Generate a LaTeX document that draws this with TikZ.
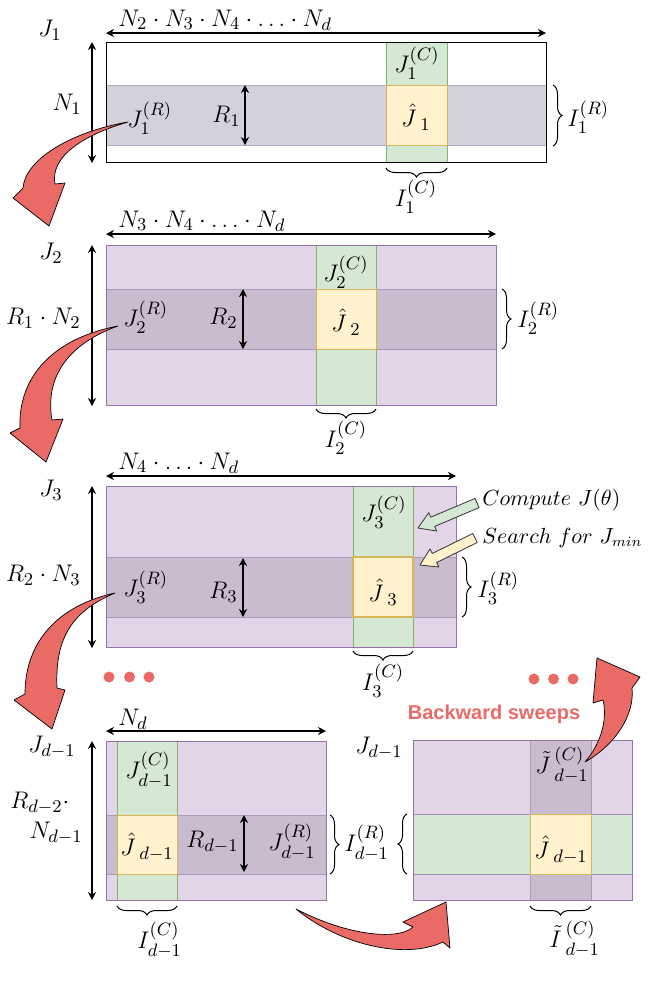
\documentclass[tikz,border=0pt]{standalone}
\usepackage{fontspec}
\newfontfamily\helv{Liberation Sans}
\usetikzlibrary{arrows.meta,decorations.pathreplacing}
\definecolor{grn}{HTML}{D5E8D4}\definecolor{grnD}{HTML}{82B366}
\definecolor{yel}{HTML}{FFF2CC}\definecolor{yelD}{HTML}{D6B656}
\definecolor{pur}{HTML}{E1D5E7}\definecolor{purD}{HTML}{9673A6}
\definecolor{rowA}{HTML}{D5D1DC}\definecolor{rowAD}{HTML}{B4A7C4}
\definecolor{rowB}{HTML}{C8BCCE}\definecolor{rowBD}{HTML}{AB9BBB}
\definecolor{redA}{HTML}{EA6B66}
\begin{document}
\begin{tikzpicture}[x=0.5pt,y=-0.5pt,
  lab/.style={font=\fontsize{12.6}{14}\selectfont, inner sep=0pt},
  note/.style={font=\fontsize{10.5}{13}\selectfont, inner sep=0pt},
  dimarrow/.style={{Stealth[length=4pt,width=4pt]}-{Stealth[length=4pt,width=4pt]}, line width=0.55pt},
  brc/.style={decorate, decoration={brace, amplitude=4.5pt}, line width=0.5pt},
  redarrow/.style={fill=redA, draw=black, line width=0.35pt, line join=round},
  cell/.style={line width=0.5pt},
  blockarrow/.style={draw=black!80, line width=0.4pt, line join=round}]
\useasboundingbox (0,0) rectangle (648,987);

% ---------------- Panel 1 ----------------
\fill[white] (106,42) rectangle (546,162);
\filldraw[cell, fill=rowA, draw=rowAD] (106,85) rectangle (546,145);
\filldraw[cell, fill=grn, draw=grnD] (386,42) rectangle (447,162);
\filldraw[cell, fill=yel, draw=yelD] (386,85) rectangle (447,145);
\draw[line width=0.5pt] (106,42) rectangle (546,162);
\coordinate (h1a) at (106,33); \coordinate (h1b) at (546,33);
\coordinate (v1a) at (92,42); \coordinate (v1b) at (92,163);
\coordinate (r1a) at (245,85); \coordinate (r1b) at (245,145);
\draw[dimarrow] (h1a) -- (h1b);
\draw[dimarrow] (v1a) -- (v1b);
\draw[dimarrow] (r1a) -- (r1b);
\node[lab, anchor=south west] (n1chain) at (118,31) {$N_2\cdot N_3\cdot N_4\cdot\ldots\cdot N_d$};
\node[lab] (J1) at (50,30) {$J_1$};
\node[lab, anchor=east] (N1) at (82,104) {$N_1$};
\node[lab, anchor=west] (J1R) at (127,118) {$J_1^{(R)}$};
\node[lab, anchor=east] (R1) at (241,116) {$R_1$};
\node[lab] (J1C) at (417,63) {$J_1^{(C)}$};
\node[lab] (Jh1) at (416,117) {$\hat{J}\,{}_1$};
\coordinate (b1a) at (553,85); \coordinate (b1b) at (553,146);
\draw[brc] (b1a) -- (b1b);
\node[lab, anchor=west] (I1R) at (567,117) {$I_1^{(R)}$};
\coordinate (c1a) at (447,168); \coordinate (c1b) at (386,168);
\draw[brc] (c1a) -- (c1b);
\node[lab, anchor=north] (I1C) at (416,180) {$I_1^{(C)}$};

% ---------------- Panel 2 ----------------
\filldraw[cell, fill=pur, draw=purD] (106,245) rectangle (496,405);
\filldraw[cell, fill=rowB, draw=rowBD] (106,289) rectangle (496,349);
\filldraw[cell, fill=grn, draw=grnD] (316,245) rectangle (376,405);
\filldraw[cell, fill=yel, draw=yelD] (316,289) rectangle (376,349);
\draw[cell, purD] (106,245) rectangle (496,405);
\coordinate (h2a) at (106,234); \coordinate (h2b) at (496,234);
\coordinate (v2a) at (92,245); \coordinate (v2b) at (92,406);
\coordinate (r2a) at (243,289); \coordinate (r2b) at (243,349);
\draw[dimarrow] (h2a) -- (h2b);
\draw[dimarrow] (v2a) -- (v2b);
\draw[dimarrow] (r2a) -- (r2b);
\node[lab, anchor=south west] (n2chain) at (118,232) {$N_3\cdot N_4\cdot\ldots\cdot N_d$};
\node[lab] (J2) at (51,253) {$J_2$};
\node[lab, anchor=east] (R1N2) at (81,318) {$R_1\cdot N_2$};
\node[lab, anchor=west] (J2R) at (123,317) {$J_2^{(R)}$};
\node[lab, anchor=east] (R2) at (238,318) {$R_2$};
\node[lab] (J2C) at (346,272) {$J_2^{(C)}$};
\node[lab] (Jh2) at (346,322) {$\hat{J}\,{}_2$};
\coordinate (b2a) at (502,289); \coordinate (b2b) at (502,349);
\draw[brc] (b2a) -- (b2b);
\node[lab, anchor=west] (I2R) at (517,318) {$I_2^{(R)}$};
\coordinate (c2a) at (376,409); \coordinate (c2b) at (316,409);
\draw[brc] (c2a) -- (c2b);
\node[lab, anchor=north] (I2C) at (346,421) {$I_2^{(C)}$};

% ---------------- Panel 3 ----------------
\filldraw[cell, fill=pur, draw=purD] (106,486) rectangle (456,647);
\filldraw[cell, fill=rowB, draw=rowBD] (106,557) rectangle (456,617);
\filldraw[cell, fill=grn, draw=grnD] (353,486) rectangle (413,647);
\filldraw[line width=0.9pt, fill=yel, draw=yelD] (353,557) rectangle (413,617);
\draw[cell, purD] (106,486) rectangle (456,647);
\coordinate (h3a) at (106,476); \coordinate (h3b) at (456,476);
\coordinate (v3a) at (92,486); \coordinate (v3b) at (92,648);
\coordinate (r3a) at (243,558); \coordinate (r3b) at (243,617);
\draw[dimarrow] (h3a) -- (h3b);
\draw[dimarrow] (v3a) -- (v3b);
\draw[dimarrow] (r3a) -- (r3b);
\node[lab, anchor=south west] (n3chain) at (118,474) {$N_4\cdot\ldots\cdot N_d$};
\node[lab] (J3) at (51,490) {$J_3$};
\node[lab, anchor=east] (R2N3) at (81,575) {$R_2\cdot N_3$};
\node[lab, anchor=west] (J3R) at (123,587) {$J_3^{(R)}$};
\node[lab, anchor=east] (R3) at (238,592) {$R_3$};
\node[lab] (J3C) at (384,512) {$J_3^{(C)}$};
\node[lab] (Jh3) at (383,592) {$\hat{J}\,{}_3$};
\coordinate (b3a) at (462,557); \coordinate (b3b) at (462,617);
\draw[brc] (b3a) -- (b3b);
\node[lab, anchor=west] (I3R) at (477,588) {$I_3^{(R)}$};
\coordinate (c3a) at (413,651); \coordinate (c3b) at (353,651);
\draw[brc] (c3a) -- (c3b);
\node[lab, anchor=north] (I3C) at (383,664) {$I_3^{(C)}$};
\node[note, anchor=west] (comp) at (482,500) {$Compute\ J(\theta)$};
\node[note, anchor=west] (srch) at (482,538) {$Search\ for\ J_{min}$};
% block arrows
\filldraw[blockarrow, fill=grn] (418,528) -- (436.6,531.0) -- (434.7,526.4) -- (479.0,507.6) -- (475.0,498.4) -- (430.7,517.2) -- (428.8,512.6) -- cycle;
\filldraw[blockarrow, fill=yel] (420,565) -- (438.8,567.0) -- (436.6,562.5) -- (477.2,542.5) -- (472.8,533.5) -- (432.2,553.5) -- (430.0,549.0) -- cycle;
% dots
\foreach \x in {109,129.5,149} \fill[redA] (\x,677) circle (5.5);
\foreach \x in {534,553.5,573} \fill[redA] (\x,679) circle (5.5);

% ---------------- Panel 4 ----------------
\filldraw[cell, fill=pur, draw=purD] (106,741) rectangle (326,900);
\filldraw[cell, fill=rowB, draw=rowBD] (106,815) rectangle (326,874);
\filldraw[cell, fill=grn, draw=grnD] (117,741) rectangle (177,900);
\filldraw[cell, fill=yel, draw=yelD] (117,815) rectangle (177,874);
\draw[cell, purD] (106,741) rectangle (326,900);
\coordinate (h4a) at (106,731); \coordinate (h4b) at (326,731);
\coordinate (v4a) at (92,741); \coordinate (v4b) at (92,900);
\coordinate (r4a) at (244,815); \coordinate (r4b) at (244,872);
\draw[dimarrow] (h4a) -- (h4b);
\draw[dimarrow] (v4a) -- (v4b);
\draw[dimarrow] (r4a) -- (r4b);
\node[lab] (Nd) at (133,719) {$N_d$};
\node[lab] (Jd1) at (52,747) {$J_{d-1}$};
\node[lab, anchor=west] (Rd2) at (10,803) {$R_{d-2}\cdot$};
\node[lab, anchor=east] (Nd1) at (83,833) {$N_{d-1}$};
\node[lab] (Jd1C) at (149,770) {$J_{d-1}^{(C)}$};
\node[lab] (Jhd1) at (147,847) {$\hat{J}\,{}_{d-1}$};
\node[lab, anchor=east] (Rd1) at (239,842) {$R_{d-1}$};
\node[lab, anchor=west] (Jd1R) at (268,842) {$J_{d-1}^{(R)}$};
\coordinate (b4a) at (330,815); \coordinate (b4b) at (330,874);
\draw[brc] (b4a) -- (b4b);
\node[lab, anchor=west] (Id1R) at (344,843) {$I_{d-1}^{(R)}$};
\coordinate (c4a) at (177,906); \coordinate (c4b) at (117,906);
\draw[brc] (c4a) -- (c4b);
\node[lab, anchor=north west] (Id1C) at (137,922) {$I_{d-1}^{(C)}$};

% ---------------- Panel 5 ----------------
\filldraw[cell, fill=pur, draw=purD] (413,740) rectangle (632,900);
\filldraw[cell, fill=rowB, draw=rowBD] (530,740) rectangle (591,900);
\filldraw[cell, fill=grn, draw=purD!80] (413,814) rectangle (632,874);
\filldraw[cell, fill=yel, draw=yelD] (530,814) rectangle (591,874);
\draw[cell, purD] (413,740) rectangle (632,900);
\node[lab] (Jd1b) at (379,748) {$J_{d-1}$};
\node[lab] (JtC) at (562,765) {$\tilde{J}\,{}_{d-1}^{(C)}$};
\node[lab] (Jh5) at (561,850) {$\hat{J}\,{}_{d-1}$};
\coordinate (b5a) at (407,874); \coordinate (b5b) at (407,814);
\draw[brc] (b5a) -- (b5b);
\coordinate (c5a) at (591,906); \coordinate (c5b) at (530,906);
\draw[brc] (c5a) -- (c5b);
\node[lab, anchor=north west] (ItC) at (549,921) {$\tilde{I}\,{}_{d-1}^{(C)}$};
\node[font=\helv\bfseries\fontsize{10}{12}\selectfont, text=redA, inner sep=0pt] (bw) at (494,714) {Backward sweeps};

% ---------------- Red curved arrows ----------------
\filldraw[redarrow] (128,122) .. controls (70,132) and (25,160) .. (23,188) -- (13,198) -- (49,226) -- (65,183) -- (55,184) .. controls (50,158) and (80,136) .. (128,122) -- cycle;
\filldraw[redarrow] (118,326) .. controls (55,338) and (18,375) .. (20,428) -- (10,433) -- (46,462) -- (63,419) -- (52,420) .. controls (45,380) and (65,345) .. (118,326) -- cycle;
\filldraw[redarrow] (115,593) .. controls (60,605) and (25,640) .. (25,694) -- (14,700) -- (52,729) -- (65,690) -- (57,688) .. controls (55,640) and (70,612) .. (115,593) -- cycle;
\filldraw[redarrow] (296,909) .. controls (340,945) and (405,960) .. (443,942) -- (450,948) -- (446,902) -- (403,922) -- (413,927) .. controls (400,940) and (350,937) .. (296,909) -- cycle;
\filldraw[redarrow] (585,762) .. controls (615,745) and (635,715) .. (632,688) -- (640,677) -- (597,658) -- (593,703) -- (603,700) .. controls (608,720) and (600,745) .. (585,762) -- cycle;
\end{tikzpicture}
\end{document}
